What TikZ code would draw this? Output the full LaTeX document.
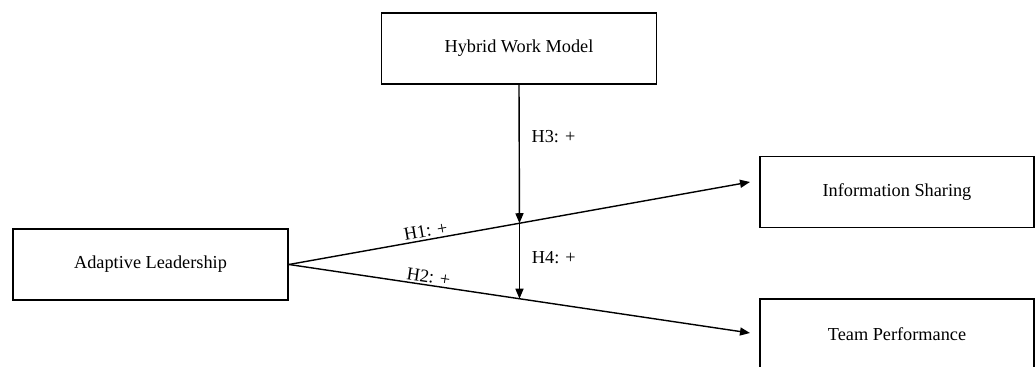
\documentclass[tikz,border=0pt]{standalone}
\usepackage{fontspec}
\setmainfont{Liberation Serif}
\usetikzlibrary{arrows.meta}

\begin{document}
\begin{tikzpicture}[
	varbox/.style={rectangle, draw, line width=1.1pt, minimum width=5.5cm, minimum height=1.42cm, font=\fontsize{10.4}{12}\selectfont},
	path/.style={line width=.8pt, -{Triangle[length=.2cm, width=.16cm]}},
	hyp/.style={font=\fontsize{10.4}{12}\selectfont, inner sep=1pt}
	]
	 \useasboundingbox (0,0) rectangle (20.72,7.34);
	 \node[varbox] (hybrid) at (10.38,6.37) {Hybrid Work Model};
	 \node[varbox] (adaptive) at (3.01,2.05) {Adaptive Leadership};
	 \node[varbox, minimum width=5.48cm] (infoshare) at (17.94,3.50) {Information Sharing};
	 \node[varbox, minimum width=5.48cm] (teamperf) at (17.94,0.65) {Team Performance};
	 %
	 \coordinate (infoin) at (15.0,3.70);
	 \coordinate (perfin) at (15.0,0.68);
	 \draw[path] (adaptive.east) -- node[hyp, pos=.3, above, sloped] {H1: +} coordinate[pos=.5] (mid1) (infoin);
	 \draw[path] (adaptive.east) -- node[hyp, pos=.3, above, sloped] {H2: +} coordinate[pos=.5] (mid2) (perfin);
	 %
	 \draw[path] (hybrid.south) -- node[hyp, pos=.37, right=.2cm] {H3: +} (mid1);
	 \draw[path] (mid1) -- node[hyp, pos=.45, right=.2cm] {H4: +} (mid2);
	\end{tikzpicture}
\end{document}
